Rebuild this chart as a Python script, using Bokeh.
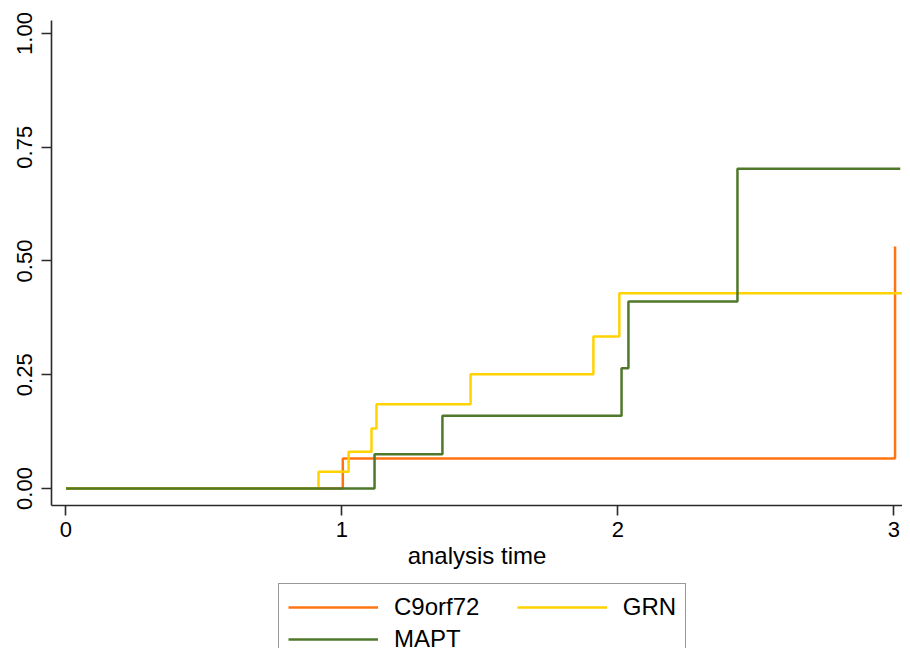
from bokeh.plotting import figure
from bokeh.models import Range1d, FixedTicker, Legend, LegendItem
from bokeh.layouts import column
from bokeh.embed import file_html
from bokeh.resources import INLINE

# ---- data ----
x_ticks = [0, 1, 2, 3]
x_tick_labels = ["0", "1", "2", "3"]
y_ticks = [0, 0.25, 0.5, 0.75, 1.0]
y_tick_labels = ["0.00", "0.25", "0.50", "0.75", "1.00"]

series_names = ["C9orf72", "GRN", "MAPT"]
series_colors = ["#FF7410", "#FFD200", "#4F782A"]

c9orf72_time = [0.0, 1.003, 3.004]
c9orf72_fail = [0.0, 0.066, 0.532]

grn_time = [0.0, 0.915, 1.024, 1.107, 1.125, 1.466, 1.911, 2.005, 3.042]
grn_fail = [0.0, 0.037, 0.081, 0.132, 0.185, 0.251, 0.334, 0.429, 0.429]

mapt_time = [0.0, 1.118, 1.364, 2.013, 2.038, 2.433, 3.023]
mapt_fail = [0.0, 0.075, 0.160, 0.264, 0.411, 0.703, 0.703]

series_time = [c9orf72_time, grn_time, mapt_time]
series_fail = [c9orf72_fail, grn_fail, mapt_fail]

FONT = "Liberation Sans"
LINE_W = 2.5

# ---- main plot ----
p = figure(width=902, height=582, output_backend="svg", toolbar_location=None,
           x_range=Range1d(-0.0525, 3.031), y_range=Range1d(-0.0374, 1.0286),
           min_border_left=51, min_border_right=0, min_border_top=20, min_border_bottom=77)
p.outline_line_color = None
p.xgrid.visible = False
p.ygrid.visible = False
p.background_fill_color = "white"
p.border_fill_color = "white"

for t, f, c in zip(series_time, series_fail, series_colors):
    p.step(t, f, mode="after", line_color=c, line_width=LINE_W)

for ax in (p.xaxis[0], p.yaxis[0]):
    ax.axis_line_color = "#2a2a2a"
    ax.axis_line_width = 1.6
    ax.major_tick_line_color = "#2a2a2a"
    ax.major_tick_line_width = 1.6
    ax.major_tick_out = 10
    ax.major_tick_in = 0
    ax.minor_tick_line_color = None
    ax.major_label_text_font = FONT
    ax.major_label_text_font_size = "22px"
    ax.major_label_text_color = "black"

p.xaxis.ticker = FixedTicker(ticks=x_ticks)
p.xaxis.major_label_overrides = {t: l for t, l in zip(x_ticks, x_tick_labels)}
p.xaxis.major_label_standoff = 6
p.xaxis.axis_label = "analysis time"
p.xaxis.axis_label_text_font = FONT
p.xaxis.axis_label_text_font_size = "24px"
p.xaxis.axis_label_text_font_style = "normal"
p.xaxis.axis_label_text_color = "black"
p.xaxis.axis_label_standoff = 2

p.yaxis.ticker = FixedTicker(ticks=y_ticks)
p.yaxis.major_label_overrides = {t: l for t, l in zip(y_ticks, y_tick_labels)}
p.yaxis.major_label_orientation = "vertical"
p.yaxis.major_label_standoff = 9

# ---- legend strip below (keys only; hidden copies of the series) ----
q = figure(width=902, height=66, output_backend="svg", toolbar_location=None,
           x_range=Range1d(-0.0525, 3.031), y_range=Range1d(-0.0374, 1.0286),
           x_axis_type=None, y_axis_type=None,
           min_border_left=51, min_border_right=0, min_border_top=0, min_border_bottom=0)
q.outline_line_color = None
q.background_fill_color = "white"
q.border_fill_color = "white"

legend_renderers = [q.step(t, f, mode="after", line_color=c, line_width=LINE_W, visible=False)
                    for t, f, c in zip(series_time, series_fail, series_colors)]
items = [LegendItem(label=series_names[0] + "     ", renderers=[legend_renderers[0]]),
         LegendItem(label=series_names[1], renderers=[legend_renderers[1]]),
         LegendItem(label=series_names[2], renderers=[legend_renderers[2]])]
legend = Legend(items=items, location=(227, -15), orientation="horizontal", ncols=2,
                glyph_width=90, glyph_height=20, label_standoff=16, spacing=4,
                padding=9, margin=0,
                label_text_font=FONT, label_text_font_size="24px", label_text_color="black",
                border_line_color="#333333", border_line_width=1.3,
                background_fill_color="white", background_fill_alpha=1.0,
                inactive_fill_alpha=0.0, click_policy="none")
q.add_layout(legend, "center")

layout = column(p, q, spacing=0)
open("out.html", "w").write(file_html(layout, INLINE))
